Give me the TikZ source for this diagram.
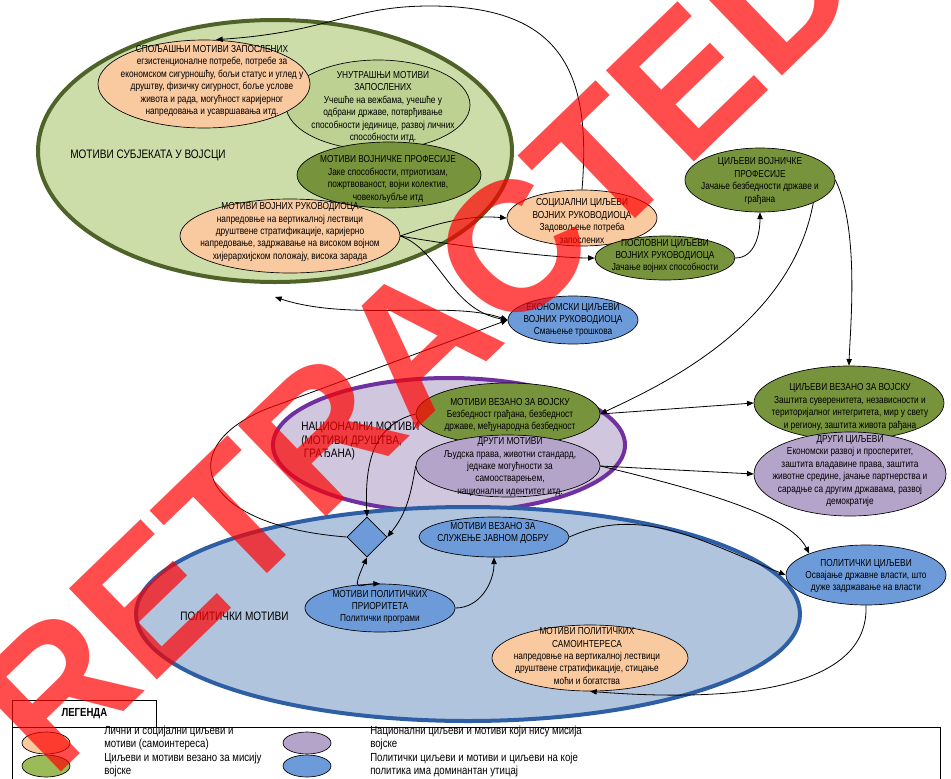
\documentclass[tikz,border=0pt]{standalone}
\usepackage{fontspec}
\setmainfont[FakeStretch=0.82]{Liberation Sans}
\newfontfamily\wmfont{Liberation Sans}
\usetikzlibrary{shapes.geometric,arrows.meta}
\definecolor{cpeach}{HTML}{F9C9A0}
\definecolor{colive}{HTML}{77933C}
\definecolor{cinner}{HTML}{BCD192}
\definecolor{clegg}{HTML}{9BBB59}
\definecolor{cgreenL}{HTML}{CCDDAA}
\definecolor{cgreenB}{HTML}{4F6228}
\definecolor{cpurL}{HTML}{D0C6DD}
\definecolor{cpurB}{HTML}{7030A0}
\definecolor{cpurple}{HTML}{B5A4C9}
\definecolor{cbluL}{HTML}{B0C4DE}
\definecolor{cbluB}{HTML}{2E5FA5}
\definecolor{cblue}{HTML}{6D9BD9}
\newcommand\fs{\fontsize{7.6}{9.3}\selectfont}
\newcommand\fsl{\fontsize{9.2}{10}\selectfont}
\newcommand\fsg{\fontsize{8.8}{9.5}\selectfont}
\begin{document}
\begin{tikzpicture}[x=0.75pt,y=-0.75pt,
  el/.style={ellipse, draw=black, line width=0.5pt, inner sep=0pt},
  sz/.style 2 args={minimum width=1.5pt*#1, minimum height=1.5pt*#2},
  pe/.style={el, fill=cpeach}, ol/.style={el, fill=colive}, lg/.style={el, fill=cinner},
  pu/.style={el, fill=cpurple}, bl/.style={el, fill=cblue},
  txt/.style={align=center, inner sep=0pt, font=\fs},
  arr/.style={line width=0.6pt, -{Triangle[length=5pt,width=4pt]}},
  darr/.style={line width=0.6pt, {Triangle[length=5pt,width=4pt]}-{Triangle[length=5pt,width=4pt]}},
  big/.style={ellipse, line width=3pt, inner sep=0pt}
]
\useasboundingbox (0,0) rectangle (951,779);
\fill[white] (0,0) rectangle (951,779);

% big regions
\node[big, draw=cgreenB, fill=cgreenL, sz={237}{131}] (bg) at (275,151) {};
\node[txt, font=\fsl, anchor=west] (bgt) at (70,155) {МОТИВИ СУБЈЕКАТА У ВОЈСЦИ};
\node[big, draw=cpurB, fill=cpurL, sz={176}{67}] (bp) at (449,445) {};
\node[txt, font=\fsl, align=left, anchor=west] (bpt) at (301,441) {НАЦИОНАЛНИ МОТИВИ\\(МОТИВИ ДРУШТВА,\\\hspace{2pt}ГРАЂАНА)};
\node[big, draw=cbluB, fill=cbluL, sz={332}{107}] (bb) at (468,614) {};
\node[txt, font=\fsl, anchor=west] (bbt) at (180,616) {ПОЛИТИЧКИ МОТИВИ};

% subjects
\node[lg, sz={92}{45}] (unu) at (378,105) {};
\node[txt] (unut) at (383,107) {УНУТРАШЊИ МОТИВИ\\ЗАПОСЛЕНИХ\\Учешће на вежбама, учешће у\\одбрани државе, потврђивање\\способности јединице, развој личних\\способности итд.};
\node[pe, sz={106}{44}] (spo) at (204,84) {};
\node[txt] (spot) at (212,81) {СПОЉАШЊИ МОТИВИ ЗАПОСЛЕНИХ\\егзистенционалне потребе, потребе за\\економском сигурношћу, бољи статус и углед у\\друштву, физичку сигурност, боље услове\\живота и рада, могућност каријерног\\напредовања и усавршавања итд.};
\node[ol, sz={92}{33}] (mvp) at (389,175) {};
\node[txt] (mvpt) at (388,179) {МОТИВИ ВОЈНИЧКЕ ПРОФЕСИЈЕ\\Јаке способности, птриотизам,\\пожртвованост, војни колектив,\\човекољубље итд};
\node[pe, sz={110}{37}] (mvr) at (290,236) {};
\node[txt] (mvrt) at (290,232) {МОТИВИ ВОЈНИХ РУКОВОДИОЦА\\напредовње на вертикалној лествици\\друштвене стратификације, каријерно\\напредовање, задржавање на високом војном\\хијерархијском положају, висока зарада};

% goals
\node[pe, sz={75}{28}] (soc) at (582,218) {};
\node[txt] (soct) at (582,221) {СОЦИЈАЛНИ ЦИЉЕВИ\\ВОЈНИХ РУКОВОДИОЦА\\Задовољење потреба\\запослених};
\node[ol, sz={70}{22}] (pos) at (665,258) {};
\node[txt] (post) at (665,256) {ПОСЛОВНИ ЦИЉЕВИ\\ВОЈНИХ РУКОВОДИОЦА\\Јачање војних способности};
\node[ol, sz={75}{32}] (cvp) at (760,180) {};
\node[txt] (cvpt) at (760,181) {ЦИЉЕВИ ВОЈНИЧКЕ\\ПРОФЕСИЈЕ\\Јачање безбедности државе и\\грађана};
\node[bl, sz={65}{24}] (eko) at (573,320) {};
\node[txt] (ekot) at (573,320) {ЕКОНОМСКИ ЦИЉЕВИ\\ВОЈНИХ РУКОВОДИОЦА\\Смањење трошкова};

% national
\node[ol, sz={92}{31}] (mvv) at (508,414) {};
\node[txt] (mvvt) at (510,415) {МОТИВИ ВЕЗАНО ЗА ВОЈСКУ\\Безбедност грађана, безбедност\\државе, међународна безбедност};
\node[pu, sz={92}{31}] (drm) at (508,466) {};
\node[txt] (drmt) at (510,467) {ДРУГИ МОТИВИ\\Људска права, животни стандард,\\једнаке могућности за\\самоостварењем,\\национални идентитет итд.};
\node[ol, sz={95}{37}] (cvv) at (849,403) {};
\node[txt] (cvvt) at (850,407) {ЦИЉЕВИ ВЕЗАНО ЗА ВОЈСКУ\\Заштита суверенитета, независности и\\територијалног интегритета, мир у свету\\и региону, заштита живота рађана};
\node[pu, sz={96}{42}] (drc) at (850,474) {};
\node[txt] (drct) at (850,471) {ДРУГИ ЦИЉЕВИ\\Економски развој и просперитет,\\заштита владавине права, заштита\\животне средине, јачање партнерства и\\сарадње са другим државама, развој\\демократије};

% political
\node[diamond, draw=black, line width=0.5pt, fill=cblue, minimum size=30pt, inner sep=0pt] (dia) at (367,537) {};
\node[bl, sz={75}{20}] (jd) at (494,537) {};
\node[txt] (jdt) at (493,533) {МОТИВИ ВЕЗАНО ЗА\\СЛУЖЕЊЕ ЈАВНОМ ДОБРУ};
\node[bl, sz={75}{24}] (ppr) at (380,608) {};
\node[txt] (pprt) at (380,607) {МОТИВИ ПОЛИТИЧКИХ\\ПРИОРИТЕТА\\Политички програми};
\node[bl, sz={80}{30}] (pc) at (866,575) {};
\node[txt] (pct) at (866,576) {ПОЛИТИЧКИ ЦИЉЕВИ\\Освајање државне власти, што\\дуже задржавање на власти};
\node[pe, sz={98}{33}] (sam) at (590,658) {};
\node[txt] (samt) at (587,656) {МОТИВИ ПОЛИТИЧКИХ\\САМОИНТЕРЕСА\\напредовње на вертикалној лествици\\друштвене стратификације, стицање\\моћи и богатства};

% connectors
\coordinate (cA) at (275,297);
\draw[arr] (soc.north) .. controls (592,70) and (560,6) .. (430,6) .. controls (350,6) and (330,32) .. ([xshift=9pt]spo.north);
\draw[arr] (mvr.east) .. controls (440,222) and (470,215) .. (soc.west);
\draw[arr] (mvr.east) .. controls (450,245) and (550,258) .. (pos.west);
\draw[arr] (mvr.east) .. controls (440,250) and (450,310) .. (eko.west);
\draw[darr] (cA) .. controls (350,322) and (450,300) .. (eko.west);
\draw[arr] (dia.west) .. controls (190,525) and (170,440) .. (280,404) -- (eko.west);
\draw[arr] (pos.east) to[out=0,in=-90] (cvp.south);
\draw[arr] (cvp.east) .. controls (860,230) and (850,330) .. (cvv.north);
\draw[arr] (cvp.south east) .. controls (790,330) and (650,390) .. (mvv.east);
\draw[arr] (mvv.east) -- (cvv.west);
\draw[arr] (drm.east) -- (drc.west);
\draw[arr] (drm.east) .. controls (700,490) and (790,515) .. (pc.north west);
\draw[arr] (jd.east) .. controls (640,505) and (700,540) .. (pc.west);
\draw[arr] (pc.south) .. controls (870,700) and (700,700) .. (sam.south);
\draw[arr] (ppr.east) to[out=0,in=-90] (jd.south);
\draw[darr] (dia.south) .. controls (350,595) and (360,584) .. (ppr.north);
\draw[arr] (mvv.west) .. controls (370,425) and (365,470) .. (dia.north);
\draw[arr] (drm.west) .. controls (410,500) and (405,515) .. (dia.east);

% legend
\node[draw=black, line width=0.6pt, minimum width=108pt, minimum height=20pt, anchor=north west, inner sep=0pt, font=\fsg\bfseries] (legt) at (12,700) {ЛЕГЕНДА};
\node[draw=black, line width=0.6pt, minimum width=696pt, minimum height=60pt, anchor=north west, inner sep=0pt] (legb) at (12,727) {};
\node[pe, sz={24}{11}] (l1) at (46,743) {};
\node[ol, fill=clegg, sz={24}{11}] (l2) at (46,766) {};
\node[pu, sz={24}{11}] (l3) at (307,743) {};
\node[bl, sz={24}{11}] (l4) at (307,766) {};
\node[txt, font=\fsg, align=left, anchor=west] (l1t) at (104,738) {Лични и социјални циљеви и\\мотиви (самоинтереса)};
\node[txt, font=\fsg, align=left, anchor=west] (l2t) at (104,765) {Циљеви и мотиви везано за мисију\\војске};
\node[txt, font=\fsg, align=left, anchor=west] (l3t) at (370,738) {Национални циљеви и мотиви који нису мисија\\војске};
\node[txt, font=\fsg, align=left, anchor=west] (l4t) at (370,765) {Политички циљеви и мотиви и циљеви на које\\политика има доминантан утицај};

% watermark
\node[rotate=44, text=red, opacity=0.7, font=\wmfont\bfseries\fontsize{138}{138}\selectfont, inner sep=0pt] (wm) at (417,341) {RETRACTED};
\end{tikzpicture}
\end{document}
